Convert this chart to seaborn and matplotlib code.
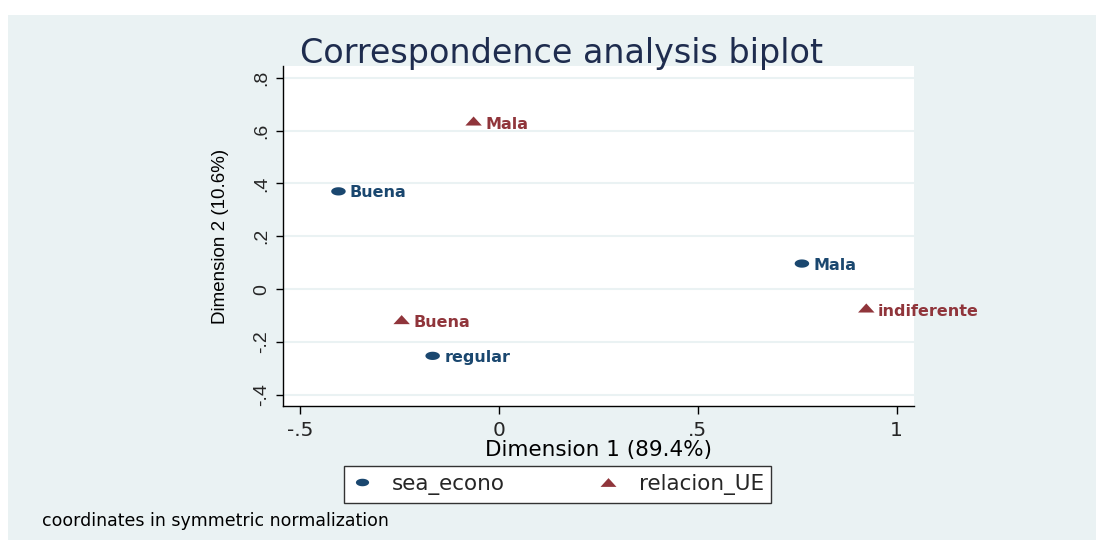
import matplotlib.pyplot as plt
import numpy as np
import pandas as pd
import seaborn as sns
from matplotlib.lines import Line2D
from matplotlib.patches import Rectangle

row_names = ["Buena", "Mala", "regular"]  # sea_econo
row_dim1 = [-0.404, 0.762, -0.167]
row_dim2 = [0.370, 0.097, -0.252]

col_names = ["Mala", "indiferente", "Buena"]  # relacion_UE
col_dim1 = [-0.064, 0.924, -0.245]
col_dim2 = [0.636, -0.071, -0.115]

xticks = [-0.5, 0, 0.5, 1]
xtick_labels = ["-.5", "0", ".5", "1"]
yticks = [-0.4, -0.2, 0, 0.2, 0.4, 0.6, 0.8]
ytick_labels = ["-.4", "-.2", "0", ".2", ".4", ".6", ".8"]

df = pd.concat(
    [
        pd.DataFrame({"label": row_names, "dim1": row_dim1, "dim2": row_dim2, "var": "sea_econo"}),
        pd.DataFrame({"label": col_names, "dim1": col_dim1, "dim2": col_dim2, "var": "relacion_UE"}),
    ],
    ignore_index=True,
)

# ── Estilo tipo Stata s2color ────────────────────────────────────────────
BG = "#eaf2f3"
NAVY = "#1a476f"
MAROON = "#90353b"
TITLE = "#1e2c4e"

sns.set_style("white")
plt.rcParams["font.family"] = ["DejaVu Sans"]

t = np.linspace(0, 2 * np.pi, 41)
ELLIPSE = np.column_stack([np.cos(t), 0.57 * np.sin(t)])
TRI = np.array([(-1, -0.55), (1, -0.55), (0, 0.55), (-1, -0.55)])

palette = {"sea_econo": NAVY, "relacion_UE": MAROON}
markers = {"sea_econo": ELLIPSE, "relacion_UE": TRI}
sizes = {"sea_econo": 109, "relacion_UE": 141}
text_dy = {"sea_econo": -4.3, "relacion_UE": -5.6}

fig = plt.figure(figsize=(10.96, 5.40), dpi=100, facecolor="white")
fig.patches.append(
    Rectangle((8 / 1096, 0), 1, 1 - 15 / 540, transform=fig.transFigure,
              facecolor=BG, edgecolor="none", zorder=-10)
)

ax = fig.add_axes([283 / 1096, 1 - 406 / 540, 631 / 1096, 340 / 540])
ax.set_facecolor("white")

sns.scatterplot(
    data=df, x="dim1", y="dim2", hue="var", style="var", size="var",
    palette=palette, markers=markers, sizes=sizes,
    linewidth=0, legend=False, ax=ax, zorder=3,
)

for _, r in df.iterrows():
    ax.annotate(
        r["label"], (r["dim1"], r["dim2"]),
        xytext=(8.3, text_dy[r["var"]]), textcoords="offset points",
        ha="left", va="baseline", fontsize=11.5, fontweight="bold",
        color=palette[r["var"]], annotation_clip=False, zorder=4,
    )

ax.set_xlim(-0.5435, 1.044)
ax.set_ylim(-0.4416, 0.844)
ax.set_xticks(xticks)
ax.set_xticklabels(xtick_labels, fontsize=14.5)
ax.set_yticks(yticks)
ax.set_yticklabels(ytick_labels, fontsize=14, rotation=90, va="center",
                   family=["Liberation Sans", "DejaVu Sans"])
ax.tick_params(axis="x", direction="out", length=5.8, width=1, pad=5, color="black", bottom=True)
ax.tick_params(axis="y", direction="out", length=5, width=1, pad=4, color="black", left=True)

ax.yaxis.grid(True, color=BG, linewidth=1.5)
ax.xaxis.grid(False)
ax.set_axisbelow(True)
for side in ["top", "right"]:
    ax.spines[side].set_visible(False)
for side in ["left", "bottom"]:
    ax.spines[side].set_color("black")
    ax.spines[side].set_linewidth(1)

ax.set_xlabel("Dimension 1 (89.4%)", fontsize=15.5, color="black")
ax.xaxis.set_label_coords(0.5, -0.1)
ax.set_ylabel("Dimension 2 (10.6%)", fontsize=13.5, color="black",
              family=["Liberation Sans", "DejaVu Sans"])
ax.yaxis.set_label_coords(-0.0856, 0.5)

fig.text(561.5 / 1096, 1 - 63 / 540, "Correspondence analysis biplot",
         ha="center", va="baseline", fontsize=24, color=TITLE)

handles = [
    Line2D([], [], linestyle="none", marker=ELLIPSE, markersize=9.5,
           markerfacecolor=NAVY, markeredgewidth=0, label="sea_econo"),
    Line2D([], [], linestyle="none", marker=TRI, markersize=11.5,
           markerfacecolor=MAROON, markeredgewidth=0, label="relacion_UE"),
]
leg = fig.legend(
    handles=handles, loc="center", bbox_to_anchor=(557.5 / 1096, 1 - 484.5 / 540),
    ncol=2, fontsize=15.5, frameon=True, fancybox=False, framealpha=1,
    handlelength=1.0, handletextpad=0.9, columnspacing=4.3, borderpad=0.35,
    borderaxespad=0,
)
leg.get_frame().set_edgecolor("#333333")
leg.get_frame().set_linewidth(1)

fig.text(42 / 1096, 1 - 521 / 540, "coordinates in symmetric normalization",
         ha="left", va="center", fontsize=12.5, color="black")

fig.savefig("out.png", dpi=100, facecolor="white")
